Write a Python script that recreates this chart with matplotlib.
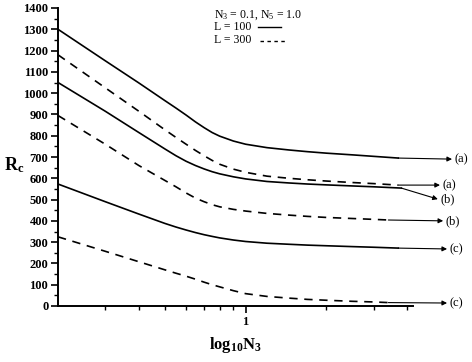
import matplotlib
matplotlib.use("Agg")
import matplotlib.pyplot as plt
from matplotlib.lines import Line2D
from matplotlib.ticker import FixedLocator, NullFormatter, MultipleLocator

plt.rcParams['font.family'] = ['Liberation Serif', 'DejaVu Serif']
plt.rcParams['mathtext.fontset'] = 'custom'
plt.rcParams['mathtext.rm'] = 'Liberation Serif'
plt.rcParams['mathtext.it'] = 'Liberation Serif'
plt.rcParams['mathtext.bf'] = 'Liberation Serif:bold'

# ---- data ----
n3_a = [0.2, 0.3, 0.4, 0.5, 0.55, 0.6, 0.65, 0.7, 0.75, 0.8, 0.9, 1.0, 1.2, 1.45, 1.7, 2.0, 2.5, 3.0, 3.7]
solid_a = [1300, 1152, 1048, 965, 930, 897, 865, 838, 815, 798, 775, 760, 744, 733, 725, 718, 710, 703, 695]
dashed_a = [1180, 1025, 915, 828, 792, 760, 731, 706, 684, 666, 643, 628, 610, 600, 593, 587, 580, 575, 568]
n3_b = [0.2, 0.3, 0.4, 0.5, 0.55, 0.6, 0.65, 0.7, 0.75, 0.8, 0.9, 1.0, 1.2, 1.45, 1.7, 2.0, 2.5, 3.0, 3.8]
solid_b = [1050, 915, 815, 738, 706, 680, 660, 644, 631, 621, 607, 597, 585, 578, 573, 569, 564, 560, 554]
n3_db = [0.2, 0.3, 0.4, 0.5, 0.55, 0.6, 0.65, 0.7, 0.75, 0.8, 0.9, 1.0, 1.2, 1.45, 1.7, 2.0, 2.5, 3.0, 3.4]
dashed_b = [895, 760, 660, 590, 560, 531, 507, 490, 476, 466, 454, 446, 435, 427, 421, 416, 411, 407, 404]
n3_c = [0.2, 0.3, 0.4, 0.5, 0.55, 0.6, 0.65, 0.7, 0.75, 0.8, 0.9, 1.0, 1.2, 1.45, 1.7, 2.0, 2.5, 3.0, 3.7]
solid_c = [573, 490, 432, 388, 371, 357, 345, 335, 327, 320, 310, 303, 295, 290, 286, 283, 279, 276, 272]
n3_dc = [0.2, 0.3, 0.4, 0.5, 0.55, 0.6, 0.65, 0.7, 0.75, 0.8, 0.9, 1.0, 1.2, 1.45, 1.7, 2.0, 2.5, 3.0, 3.4]
dashed_c = [325, 257, 208, 170, 154, 140, 126, 112, 100, 90, 72, 58, 45, 37, 31, 27, 22, 19, 16]

yticks = list(range(0, 1401, 100))
legend_title = r'N$_3$ = 0.1, N$_5$ = 1.0'
legend_solid = 'L = 100'
legend_dashed = 'L = 300'

fig = plt.figure(figsize=(4.72, 3.62), dpi=100)
ax = fig.add_axes([58/472, 1 - 306/362, 355/472, 298/362])

lw = 1.2
dash = (0, (5, 4))
ax.plot(n3_a, solid_a, color='black', lw=lw)
ax.plot(n3_a, dashed_a, color='black', lw=lw, linestyle=dash)
ax.plot(n3_b, solid_b, color='black', lw=lw)
ax.plot(n3_db, dashed_b, color='black', lw=lw, linestyle=dash)
ax.plot(n3_c, solid_c, color='black', lw=lw)
ax.plot(n3_dc, dashed_c, color='black', lw=lw, linestyle=dash)

ax.set_xscale('log')
ax.set_xlim(0.2, 4.2)
ax.set_ylim(0, 1400)

ax.spines['top'].set_visible(False)
ax.spines['right'].set_visible(False)
ax.spines['left'].set_linewidth(1.4)
ax.spines['bottom'].set_linewidth(1.4)

ax.xaxis.set_major_locator(FixedLocator([1]))
ax.xaxis.set_minor_locator(FixedLocator([0.3, 0.4, 0.5, 0.6, 0.7, 0.8, 0.9, 2, 3, 4]))
ax.xaxis.set_minor_formatter(NullFormatter())
ax.set_xticklabels(['1'])
ax.set_yticks(yticks)
ax.yaxis.set_minor_locator(MultipleLocator(50))
ax.tick_params(which='major', direction='out', length=5, width=1.2, labelsize=9, pad=2)
ax.tick_params(which='minor', direction='out', length=3, width=1.0)
for lab in ax.get_xticklabels() + ax.get_yticklabels():
    lab.set_fontweight('bold')

ax.set_xlabel(r'$\mathbf{log_{10}N_3}$', fontsize=12, labelpad=5)
fig.text(14/472, 1 - 165/362, r'$\mathbf{R_c}$', fontsize=13, ha='center', va='center')

# arrows and labels at the right
arrows = [
    (n3_a[-1], solid_a[-1], 1.110, 690, '(a)'),
    (n3_a[-1], dashed_a[-1], 1.076, 568, '(a)'),
    (n3_b[-1], solid_b[-1], 1.070, 502, '(b)'),
    (n3_db[-1], dashed_b[-1], 1.085, 400, '(b)'),
    (n3_c[-1], solid_c[-1], 1.096, 268, '(c)'),
    (n3_dc[-1], dashed_c[-1], 1.096, 14, '(c)'),
]
for x0, y0, xt, yt, lab in arrows:
    ax.annotate('', xy=(xt, yt), xycoords=('axes fraction', 'data'),
                xytext=(x0, y0), textcoords='data', annotation_clip=False,
                arrowprops=dict(arrowstyle='-|>', color='black', lw=0.8,
                                mutation_scale=7, shrinkA=0, shrinkB=0))
    ax.annotate(lab, xy=(xt, yt), xycoords=('axes fraction', 'data'),
                xytext=(2, 0), textcoords='offset points', ha='left', va='center',
                fontsize=9, annotation_clip=False)

# legend-like text block
fig.text(214/472, 1 - 15/362, legend_title, fontsize=8.5, va='center', ha='left')
fig.text(214/472, 1 - 27/362, legend_solid, fontsize=8.5, va='center', ha='left')
fig.text(214/472, 1 - 40/362, legend_dashed, fontsize=8.5, va='center', ha='left')
fig.add_artist(Line2D([258/472, 281/472], [1 - 27/362, 1 - 27/362], color='black', lw=1.0,
                      transform=fig.transFigure))
fig.add_artist(Line2D([260/472, 285/472], [1 - 41/362, 1 - 41/362], color='black', lw=1.0,
                      linestyle=(0, (2.5, 2.5)), transform=fig.transFigure))

fig.savefig('out.png', dpi=100)
